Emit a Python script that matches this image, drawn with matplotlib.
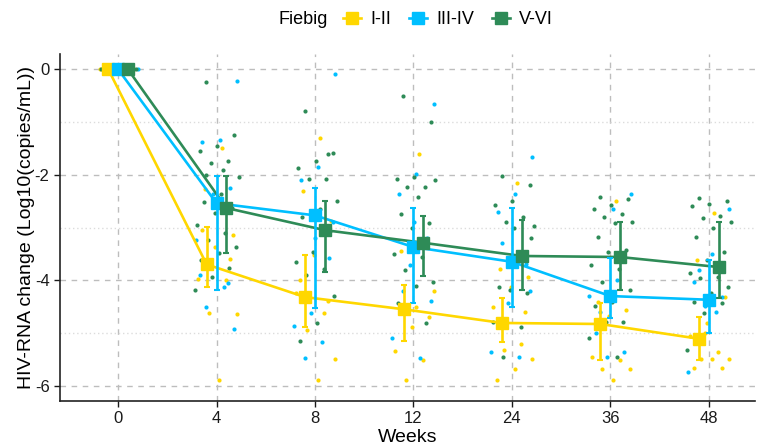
import numpy as np
import matplotlib
matplotlib.use('Agg')
import matplotlib.pyplot as plt
from matplotlib.lines import Line2D

plt.rcParams['font.family'] = ['Liberation Sans', 'DejaVu Sans']
plt.rcParams['axes.unicode_minus'] = False

weeks = ['0', '4', '8', '12', '24', '36', '48']
groups = ['I-II', 'III-IV', 'V-VI']
colors = ['#FFD700', '#00BFFF', '#2E8B57']

# group means and error bar ends
mean_12 = [0, -3.70, -4.32, -4.55, -4.81, -4.83, -5.11]
lo_12 = [0, -4.12, -4.89, -5.15, -5.17, -5.51, -5.51]
hi_12 = [0, -2.99, -3.52, -4.09, -4.34, -4.43, -4.70]

mean_34 = [0, -2.54, -2.77, -3.37, -3.65, -4.30, -4.37]
lo_34 = [0, -4.19, -4.53, -4.43, -4.51, -4.72, -5.00]
hi_34 = [0, -2.03, -2.25, -2.63, -2.63, -3.58, -3.62]

mean_56 = [0, -2.63, -3.05, -3.29, -3.54, -3.56, -3.75]
lo_56 = [0, -3.49, -3.84, -3.92, -4.19, -4.19, -4.34]
hi_56 = [0, -2.03, -2.50, -2.78, -2.86, -2.90, -2.90]

# individual patients, one list per week
pts_12 = [
    [0, 0, 0, 0, 0, 0],
    [-1.50, -2.27, -3.14, -3.37, -3.97, -4.00, -4.62, -4.64, -5.89, -3.05, -3.60],
    [-1.31, -2.31, -2.87, -3.53, -4.25, -4.63, -4.95, -5.50, -5.90, -4.00, -4.40],
    [-1.60, -3.44, -4.69, -4.89, -5.35, -5.52, -5.90, -4.20, -4.50],
    [-2.15, -3.78, -3.93, -4.13, -4.51, -5.20, -5.33, -5.49, -5.69, -5.90, -4.60],
    [-2.50, -4.42, -4.57, -4.67, -5.45, -5.52, -5.69, -5.69, -5.90, -4.90],
    [-2.73, -3.61, -4.32, -4.82, -5.05, -5.36, -5.49, -5.49, -5.49, -5.67, -5.67, -5.00],
]
pts_34 = [
    [0, 0, 0, 0, 0],
    [-0.22, -1.34, -1.38, -2.25, -2.37, -3.24, -4.13, -4.50, -4.92, -2.60, -3.90, -4.05],
    [-0.09, -1.86, -2.10, -3.57, -4.63, -4.86, -5.18, -5.47, -2.90, -3.20],
    [-0.65, -1.99, -2.37, -3.19, -3.72, -5.10, -5.47, -4.20, -4.40, -2.90],
    [-1.67, -2.37, -2.71, -3.69, -4.44, -5.37, -5.46, -3.30, -4.20],
    [-2.37, -2.64, -5.00, -5.37, -5.45, -4.30, -4.00, -4.60],
    [-2.64, -3.51, -4.04, -4.32, -4.49, -5.74, -4.60, -3.80],
]
pts_56 = [
    [0, 0, 0, 0, 0, 0],
    [-0.25, -1.25, -1.46, -1.55, -1.74, -1.78, -2.04, -2.37, -2.52, -2.63, -2.73,
     -2.95, -3.10, -3.24, -3.37, -3.49, -3.62, -3.77, -3.94, -4.19, -1.91, -2.00],
    [-0.79, -1.58, -1.74, -1.88, -2.08, -2.08, -2.49, -2.64, -2.80, -3.06, -3.47,
     -3.66, -3.78, -3.91, -4.29, -4.82, -5.16, -1.60],
    [-0.51, -0.99, -2.05, -2.08, -2.23, -2.23, -2.10, -2.43, -2.75, -2.92, -3.00,
     -3.50, -3.55, -3.80, -4.04, -4.10, -4.44, -4.82],
    [-2.03, -2.19, -2.50, -2.58, -2.80, -2.90, -2.98, -3.55, -4.13, -4.25, -4.19,
     -4.80, -4.89, -5.46, -3.20, -3.00],
    [-2.42, -2.46, -2.58, -2.64, -2.75, -2.80, -2.90, -2.92, -3.18, -3.43, -3.47,
     -3.72, -3.78, -4.04, -4.19, -4.42, -4.48, -4.80, -4.80, -5.10, -5.45],
    [-2.45, -2.50, -2.56, -2.60, -2.79, -2.82, -2.90, -3.00, -3.18, -3.47, -3.61,
     -3.87, -3.94, -3.96, -4.13, -4.25, -4.42, -4.44, -4.63, -5.33],
]

means = [mean_12, mean_34, mean_56]
los = [lo_12, lo_34, lo_56]
his = [hi_12, hi_34, hi_56]
points = [pts_12, pts_34, pts_56]
dodge = [-0.1, 0.0, 0.1]

fig = plt.figure(figsize=(7.57, 4.48), dpi=100)
ax = fig.add_axes([60 / 757, 47 / 448, 695 / 757, 347 / 448])

x = np.arange(len(weeks))

# jittered raw points (deterministic spread, golden ratio sequence)
for g in range(3):
    for i, vals in enumerate(points[g]):
        n = len(vals)
        jit = (((np.arange(n) + 1) * 0.618034 + g * 0.33) % 1.0 - 0.5) * 0.46
        ax.scatter(i + jit, vals, s=9, color=colors[g], linewidths=0, zorder=2)

for g in range(3):
    xs = x + dodge[g]
    m = np.array(means[g])
    err = [m - np.array(los[g]), np.array(his[g]) - m]
    ax.plot(xs, m, color=colors[g], lw=1.9, zorder=3)
    ax.errorbar(xs, m, yerr=err, fmt='none', ecolor=colors[g], elinewidth=1.9,
                capsize=2.5, capthick=1.5, zorder=4)
    ax.plot(xs, m, 's', color=colors[g], markersize=9, zorder=5)

ax.set_xlim(-0.59, 6.47)
ax.set_ylim(-6.29, 0.29)
ax.set_xticks(x)
ax.set_xticklabels(weeks)
ax.set_yticks([-6, -4, -2, 0])
ax.set_yticks([-5, -3, -1], minor=True)
ax.tick_params(axis='both', which='major', labelsize=12, colors='#1a1a1a',
               length=4, width=1)
ax.tick_params(axis='y', which='minor', length=0)

ax.grid(True, which='major', color='#BDBDBD', linestyle=(0, (4, 4)), linewidth=1)
ax.grid(True, which='minor', axis='y', color='#DCDCDC', linestyle=(0, (1, 2)), linewidth=1)
ax.set_axisbelow(True)

for s in ['top', 'right']:
    ax.spines[s].set_visible(False)
for s in ['left', 'bottom']:
    ax.spines[s].set_color('#222222')
    ax.spines[s].set_linewidth(1.2)

ax.set_xlabel('Weeks', fontsize=14, labelpad=2)
ax.set_ylabel('HIV-RNA change (Log10(copies/mL))', fontsize=14)
ax.yaxis.set_label_coords(-0.036, 0.5)

# legend on top, title to the left
fig.text(278 / 757, 1 - 20 / 448, 'Fiebig', fontsize=13, va='center', ha='left')
handles = [Line2D([0], [0], color=c, lw=1.9, marker='s', markersize=8) for c in colors]
fig.legend(handles, groups, loc='center left', bbox_to_anchor=(343 / 757, 1 - 20 / 448),
           ncol=3, frameon=False, fontsize=13, handlelength=1.0, handletextpad=0.5,
           columnspacing=1.0, borderaxespad=0, borderpad=0)

fig.savefig('out.png', dpi=100)
